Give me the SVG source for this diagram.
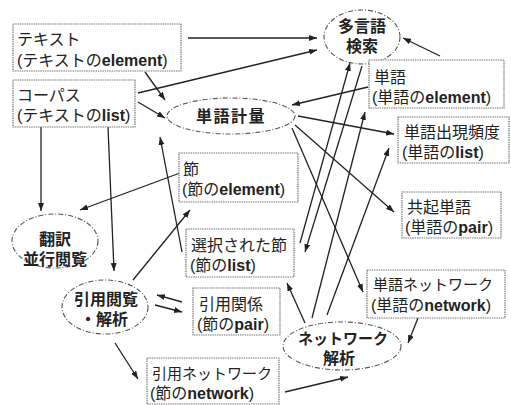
<svg xmlns="http://www.w3.org/2000/svg" width="511" height="405" viewBox="0 0 511 405">
<defs>
<style>
.bx{fill:#fff;stroke:#777;stroke-width:1.2;stroke-dasharray:1.5,0.8}
.el{fill:#fff;stroke:#555;stroke-width:1.1;stroke-dasharray:5,2,1,2}
text{font-family:"Liberation Sans","Noto Sans CJK JP",sans-serif;font-size:16px;fill:#222}
.lt{font-weight:bold}
.s{font-size:15px}
.b{font-weight:bold}
.c{text-anchor:middle}
.ln{fill:none;stroke:#222;stroke-width:1.3;marker-end:url(#ah)}
</style>
<marker id="ah" markerWidth="9" markerHeight="7" refX="8" refY="3" orient="auto" markerUnits="userSpaceOnUse">
<path d="M0,0 L8,3 L0,6 z" fill="#222"/>
</marker>
</defs>
<rect width="511" height="405" fill="#fff"/>
<g id="connectors">
<path class="ln" d="M188,38 L317,38"/>
<path class="ln" d="M138,93 L317,50"/>
<path class="ln" d="M145,72 L165,100"/>
<path class="ln" d="M138,102 L165,118"/>
<path class="ln" d="M368,87 L292,105"/>
<path class="ln" d="M440,56 L403,38"/>
<path class="ln" d="M298,116 L394,134"/>
<path class="ln" d="M295,125 L394,212"/>
<path class="ln" d="M292,128 L363,292"/>
<path class="ln" d="M300,243 L350,63"/>
<path class="ln" d="M362,66 L305,252"/>
<path class="ln" d="M312,318 L365,112"/>
<path class="ln" d="M327,315 L389,148"/>
<path class="ln" d="M305,323 L287,283"/>
<path class="ln" d="M41,127 L41,211"/>
<path class="ln" d="M108,127 L114,271"/>
<path class="ln" d="M182,252 L160,137"/>
<path class="ln" d="M180,173 L80,210"/>
<path class="ln" d="M133,280 L190,210"/>
<path class="ln" d="M182,302 L157,295"/>
<path class="ln" d="M155,305 L182,312"/>
<path class="ln" d="M115,343 L138,379"/>
<path class="ln" d="M285,392 L348,377"/>
<path class="ln" d="M418,318 L408,343"/>
</g>
<g id="text-element">
<rect class="bx" x="13" y="24" width="168" height="47"/>
<text x="17" y="45">テキスト</text>
<text x="17" y="66">(テキストの<tspan class="lt">element</tspan>)</text>
</g>
<g id="corpus">
<rect class="bx" x="13" y="80" width="122" height="47"/>
<text x="17" y="101">コーパス</text>
<text x="17" y="121">(テキストの<tspan class="lt">list</tspan>)</text>
</g>
<g id="multilingual-search">
<ellipse class="el" cx="362" cy="37" rx="38" ry="27"/>
<text class="b c" x="362" y="32">多言語</text>
<text class="b c" x="362" y="52">検索</text>
</g>
<g id="word">
<rect class="bx" x="369" y="60" width="135" height="48"/>
<text x="374" y="83">単語</text>
<text x="372" y="103">(単語の<tspan class="lt">element</tspan>)</text>
</g>
<g id="word-measure">
<ellipse class="el" cx="231" cy="116" rx="64" ry="18"/>
<text class="b c" x="231" y="122" letter-spacing="1.5">単語計量</text>
</g>
<g id="word-frequency">
<rect class="bx" x="398" y="117" width="111" height="46"/>
<text x="404" y="138">単語出現頻度</text>
<text x="402" y="158">(単語の<tspan class="lt">list</tspan>)</text>
</g>
<g id="section">
<rect class="bx" x="179" y="153" width="119" height="49"/>
<text x="183" y="175">節</text>
<text x="182" y="195">(節の<tspan class="lt">element</tspan>)</text>
</g>
<g id="cooccurrence">
<rect class="bx" x="402" y="192" width="99" height="46"/>
<text x="407" y="213">共起単語</text>
<text x="405" y="233">(単語の<tspan class="lt">pair</tspan>)</text>
</g>
<g id="translation">
<ellipse class="el" cx="55" cy="241" rx="43" ry="27"/>
<text class="b c" x="55" y="245">翻訳</text>
<text class="b c" x="55" y="265">並行閲覧</text>
</g>
<g id="selected-sections">
<rect class="bx" x="186" y="229" width="108" height="48"/>
<text x="191" y="251">選択された節</text>
<text x="190" y="271">(節の<tspan class="lt">list</tspan>)</text>
</g>
<g id="citation-browse">
<ellipse class="el" cx="105" cy="307" rx="43" ry="27"/>
<text class="b c" x="106" y="305">引用閲覧</text>
<text class="b c" x="104" y="325">・解析</text>
</g>
<g id="citation-relation">
<rect class="bx" x="193" y="288" width="87" height="47"/>
<text x="199" y="310">引用関係</text>
<text x="197" y="330">(節の<tspan class="lt">pair</tspan>)</text>
</g>
<g id="word-network">
<rect class="bx" x="367" y="270" width="138" height="48"/>
<text class="s" x="373" y="290">単語ネットワーク</text>
<text x="371" y="311">(単語の<tspan class="lt">network</tspan>)</text>
</g>
<g id="network-analysis">
<ellipse class="el" cx="342" cy="346" rx="59" ry="24"/>
<text class="b c s" x="343" y="344">ネットワーク</text>
<text class="b c" x="339" y="364">解析</text>
</g>
<g id="citation-network">
<rect class="bx" x="147" y="358" width="132" height="46"/>
<text class="s" x="152" y="379">引用ネットワーク</text>
<text x="150" y="399">(節の<tspan class="lt">network</tspan>)</text>
</g>
</svg>
